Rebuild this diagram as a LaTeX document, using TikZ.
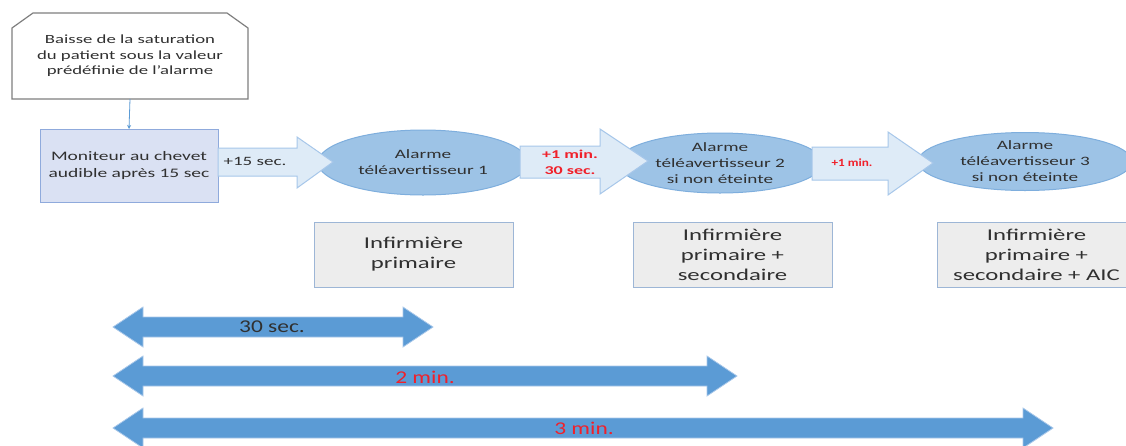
\documentclass[tikz,border=0pt]{standalone}
\usepackage{fontspec}
\usepackage{graphicx}
\setmainfont{Carlito}
\usetikzlibrary{arrows.meta,shapes.geometric}
\definecolor{txtgray}{HTML}{303030}
\definecolor{topborder}{HTML}{7F7F7F}
\definecolor{monfill}{HTML}{DAE1F3}
\definecolor{monborder}{HTML}{8FAADC}
\definecolor{ellfill}{HTML}{9DC3E6}
\definecolor{ellborder}{HTML}{7EAEDD}
\definecolor{arrfill}{HTML}{DEEBF7}
\definecolor{arrborder}{HTML}{A7C7EA}
\definecolor{boxfill}{HTML}{EDEDED}
\definecolor{boxborder}{HTML}{9DB6D6}
\definecolor{dblfill}{HTML}{5B9BD5}
\definecolor{dblborder}{HTML}{A9C8EA}
\definecolor{redtxt}{HTML}{F0202A}
\newcommand\sx[1]{\scalebox{1.5}[1]{#1}}
\newcommand\sy[1]{\scalebox{1.3}[1]{#1}}
\newcommand\sz[1]{\scalebox{1.2}[1]{#1}}
\begin{document}
\begin{tikzpicture}[x=1pt,y=-1pt,
  every node/.style={inner sep=0pt,outer sep=0pt,align=center,text=txtgray},
  topbox/.style={minimum width=236pt,minimum height=86pt,font=\fontsize{12.5}{15.5}\selectfont},
  monbox/.style={draw=monborder,fill=monfill,line width=1pt,minimum width=178pt,minimum height=73pt,font=\fontsize{13}{17}\selectfont},
  alarm/.style={ellipse,draw=ellborder,fill=ellfill,line width=1pt,minimum height=63pt,font=\fontsize{12.8}{16}\selectfont},
  blk/.style={draw=arrborder,fill=arrfill,line width=1pt,line join=miter},
  nurse/.style={draw=boxborder,fill=boxfill,line width=1pt,minimum width=199pt,minimum height=65pt,font=\fontsize{16.5}{20}\selectfont},
  dbl/.style={draw=dblborder,fill=dblfill,line width=0.8pt},
  dlabel/.style={font=\fontsize{18}{20}\selectfont},
  redlbl/.style={text=redtxt,font=\bfseries\fontsize{12}{16}\selectfont},
]
\useasboundingbox (0,0) rectangle (1126,445);
\clip (0,0) rectangle (1126,445);
\fill[white] (0,0) rectangle (1126,445);

% top box
\node[topbox] (top) at (130,56) {\sx{Baisse de la saturation}\\\sx{du patient sous la valeur}\\\sx{prédéfinie de l’alarme}};
\draw[topborder,line width=1.2pt,line join=miter]
  ([yshift=-15pt]top.north west) -- ([xshift=21pt]top.north west)
  -- ([xshift=-21pt]top.north east) -- ([yshift=-15pt]top.north east)
  -- (top.south east) -- (top.south west) -- cycle;

% monitor
\node[monbox] (mon) at (129,165.5) {\sx{Moniteur au chevet}\\\sx{audible après 15 sec}};
\draw[dblfill,line width=0.8pt,-{Stealth[length=4pt,width=4pt]}] (top.south) -- (mon.north);

% alarms
\node[alarm,minimum width=210pt,minimum height=65pt] (e1) at (423,162.5) {\sx{Alarme}\\\sx{téléavertisseur 1}};
\node[alarm,minimum width=205pt,minimum height=60pt] (e2) at (720,163) {\sx{Alarme}\\\sx{téléavertisseur 2}\\\sx{si non éteinte}};
\node[alarm,minimum width=214pt,minimum height=58pt] (e3) at (1025,161.5) {\sx{Alarme}\\\sx{téléavertisseur 3}\\\sx{si non éteinte}};

% block arrows
\draw[blk] (218,148) -- (297,148) -- (297,137) -- (333,162) -- (297,188) -- (297,176) -- (218,176) -- cycle;
\node[font=\fontsize{12.7}{15}\selectfont] (a1) at (255,161) {\sx{+15 sec.}};
\draw[blk] (520,146) -- (600,146) -- (600,129) -- (648,161) -- (600,194) -- (600,178) -- (520,178) -- cycle;
\node[redlbl] (a2) at (570,162) {\sx{+1 min.}\\\sx{30 sec.}};
\draw[blk] (812,147) -- (888,147) -- (888,132) -- (933,163) -- (888,195) -- (888,180) -- (812,180) -- cycle;
\node[redlbl,font=\bfseries\fontsize{11}{13}\selectfont] (a3) at (852,163) {\sz{+1 min.}};

% nurse boxes
\node[nurse] (n1) at (413.5,254.5) {\sx{Infirmière}\\\sx{primaire}};
\node[nurse] (n2) at (732.5,254.5) {\sx{Infirmière}\\\sx{primaire +}\\\sx{secondaire}};
\node[nurse] (n3) at (1036.5,254.5) {\sx{Infirmière}\\\sx{primaire +}\\\sx{secondaire + AIC}};

% duration arrows
\draw[dbl] (113,327) -- (143,307) -- (143,317) -- (403,317) -- (403,307) -- (433,327) -- (403,347) -- (403,337) -- (143,337) -- (143,347) -- cycle;
\node[dlabel] (d1) at (272,327) {\sy{30 sec.}};
\draw[dbl] (113,376) -- (143,356) -- (143,366) -- (707,366) -- (707,356) -- (737,376) -- (707,396) -- (707,386) -- (143,386) -- (143,396) -- cycle;
\node[dlabel,text=redtxt] (d2) at (425,377) {\sy{2 min.}};
\draw[dbl] (113,428) -- (143,408) -- (143,418) -- (1023,418) -- (1023,408) -- (1053,428) -- (1023,448) -- (1023,438) -- (143,438) -- (143,448) -- cycle;
\node[dlabel,text=redtxt] (d3) at (584,428) {\sy{3 min.}};
\end{tikzpicture}
\end{document}
